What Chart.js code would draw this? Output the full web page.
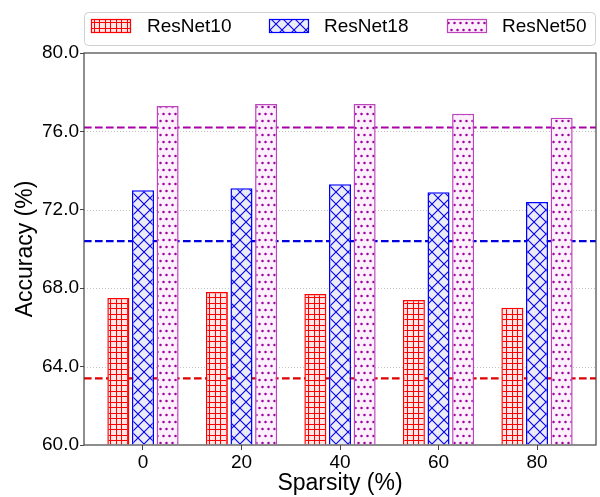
<!DOCTYPE html>
<html>
<head>
<meta charset="utf-8">
<script src="https://cdn.jsdelivr.net/npm/chart.js@4.4.1/dist/chart.umd.min.js"></script>
<style>
  html, body { margin: 0; padding: 0; background: #fff; }
  canvas { display: block; }
</style>
</head>
<body>
<canvas id="c" width="600" height="497"></canvas>
<script>
// Accuracy of pruned models at each sparsity level
const sparsity = [0, 20, 40, 60, 80];
const resnet10 = [67.5, 67.8, 67.7, 67.4, 67.0];
const resnet18 = [73.0, 73.1, 73.3, 72.9, 72.4];
const resnet50 = [77.3, 77.4, 77.4, 76.9, 76.7];
// Dense (unpruned) accuracy of each model, drawn as dashed levels
const denseAcc = [63.4, 70.4, 76.2];
const seriesNames = ['ResNet10', 'ResNet18', 'ResNet50'];
const yTicks = [60, 64, 68, 72, 76, 80];

const X_MIN = -11.975, X_MAX = 91.975;
const FONT = '"Liberation Sans", Arial, Helvetica, sans-serif';

const canvas = document.getElementById('c');
const mainCtx = canvas.getContext('2d');

function makeTile(w, h, bg, draw) {
  const t = document.createElement('canvas');
  t.width = w; t.height = h;
  const g = t.getContext('2d');
  g.fillStyle = bg;
  g.fillRect(0, 0, w, h);
  draw(g);
  return mainCtx.createPattern(t, 'repeat');
}

// '+' grid hatch
const gridHatch = makeTile(11, 11, '#ffe6e6', g => {
  g.strokeStyle = '#ff0000';
  g.lineWidth = 1;
  g.beginPath();
  [0.5, 6.5].forEach(p => {
    g.moveTo(p, 0); g.lineTo(p, 11);
    g.moveTo(0, p); g.lineTo(11, p);
  });
  g.stroke();
});

// 'x' cross hatch
const crossHatch = makeTile(12, 12, '#ececf4', g => {
  g.strokeStyle = '#0000ff';
  g.lineWidth = 1.1;
  g.beginPath();
  g.moveTo(-1, -1); g.lineTo(13, 13);
  g.moveTo(13, -1); g.lineTo(-1, 13);
  g.stroke();
});

// staggered dot hatch
const dotHatch = makeTile(12, 14, '#fdf0fd', g => {
  g.fillStyle = '#a000a0';
  [[1.5, 2], [7.5, 2], [4.5, 9], [10.5, 9]].forEach(([x, y]) => {
    g.beginPath(); g.arc(x, y, 1.25, 0, Math.PI * 2); g.fill();
  });
});

const fills = [gridHatch, crossHatch, dotHatch];
const edges = ['#ff0000', '#0000ff', '#bb44bb'];
const dashColors = ['#e00000', '#0000e0', '#aa00aa'];
const seriesValues = [resnet10, resnet18, resnet50];

const barSets = seriesValues.map((vals, i) => ({
  type: 'bar',
  label: seriesNames[i],
  data: sparsity.map((s, k) => ({ x: s, y: vals[k] })),
  backgroundColor: fills[i],
  borderColor: edges[i],
  borderWidth: 1.5,
  borderSkipped: 'start',
  base: 60,
  categoryPercentage: 0.75,
  barPercentage: 0.895,
  order: 0
}));

const dashSets = denseAcc.map((v, i) => ({
  type: 'line',
  label: seriesNames[i] + ' dense',
  data: [{ x: X_MIN, y: v }, { x: X_MAX, y: v }],
  borderColor: dashColors[i],
  borderWidth: 2.2,
  borderDash: [7.6, 3.4],
  pointRadius: 0,
  fill: false,
  order: 10
}));

// dotted horizontal grid behind everything
const gridPlugin = {
  id: 'hgrid',
  beforeDatasetsDraw(chart) {
    const { ctx, chartArea: a, scales: { y } } = chart;
    ctx.save();
    ctx.strokeStyle = '#c4c4c4';
    ctx.lineWidth = 1;
    ctx.setLineDash([1, 2]);
    yTicks.slice(1, -1).forEach(v => {
      const py = Math.round(y.getPixelForValue(v)) + 0.5;
      ctx.beginPath(); ctx.moveTo(a.left, py); ctx.lineTo(a.right, py); ctx.stroke();
    });
    ctx.restore();
  }
};

// plot frame and boxed legend
const framePlugin = {
  id: 'frame',
  afterDatasetsDraw(chart) {
    const { ctx, chartArea: a } = chart;
    ctx.save();
    ctx.strokeStyle = '#444';
    ctx.lineWidth = 1.2;
    ctx.strokeRect(a.left, a.top, a.right - a.left, a.bottom - a.top);
    ctx.restore();
  },
  afterDraw(chart) {
    const { ctx } = chart;
    ctx.save();
    ctx.beginPath();
    ctx.roundRect(84.5, 12.5, 511, 33, 4);
    ctx.fillStyle = 'rgba(255,255,255,0.85)';
    ctx.fill();
    ctx.strokeStyle = '#d0d0d0';
    ctx.lineWidth = 1;
    ctx.stroke();
    const boxX = [91, 269, 447];
    const textX = [147, 324, 502];
    seriesNames.forEach((name, i) => {
      ctx.fillStyle = fills[i];
      ctx.fillRect(boxX[i], 19, 40, 14);
      ctx.strokeStyle = edges[i];
      ctx.lineWidth = 1.2;
      ctx.strokeRect(boxX[i] + 0.5, 19.5, 39, 13);
      ctx.fillStyle = '#000';
      ctx.font = '19px ' + FONT;
      ctx.textBaseline = 'middle';
      ctx.textAlign = 'left';
      ctx.fillText(name, textX[i], 27);
    });
    ctx.restore();
  }
};

new Chart(canvas, {
  type: 'bar',
  data: { datasets: [...barSets, ...dashSets] },
  options: {
    responsive: false,
    animation: false,
    devicePixelRatio: 1,
    layout: { padding: { left: 0, right: 4, top: 53, bottom: 0 } },
    plugins: { legend: { display: false }, tooltip: { enabled: false } },
    scales: {
      x: {
        type: 'linear',
        min: X_MIN,
        max: X_MAX,
        offset: false,
        afterBuildTicks: s => { s.ticks = sparsity.map(v => ({ value: v })); },
        afterFit: s => { s.height = 52; },
        ticks: {
          callback: v => String(v),
          color: '#000',
          font: { size: 19, family: FONT },
          padding: 1,
          maxRotation: 0,
          autoSkip: false
        },
        grid: { drawOnChartArea: false, drawTicks: true, tickLength: 5, tickColor: '#444', tickWidth: 1, offset: false },
        border: { display: false },
        title: {
          display: true, text: 'Sparsity (%)', color: '#000',
          font: { size: 23, family: FONT }, padding: { top: 0, bottom: 0 }
        }
      },
      y: {
        min: 60,
        max: 80,
        afterBuildTicks: s => { s.ticks = yTicks.map(v => ({ value: v })); },
        afterFit: s => { s.width = 84; },
        ticks: {
          callback: v => Number(v).toFixed(1),
          color: '#000',
          font: { size: 19, family: FONT },
          padding: 1
        },
        grid: { drawOnChartArea: false, drawTicks: true, tickLength: 4, tickColor: '#444', tickWidth: 1 },
        border: { display: false },
        title: {
          display: true, text: 'Accuracy (%)', color: '#000',
          font: { size: 23, family: FONT }, padding: { top: 12, bottom: 0 }
        }
      }
    }
  },
  plugins: [gridPlugin, framePlugin]
});
</script>
</body>
</html>
